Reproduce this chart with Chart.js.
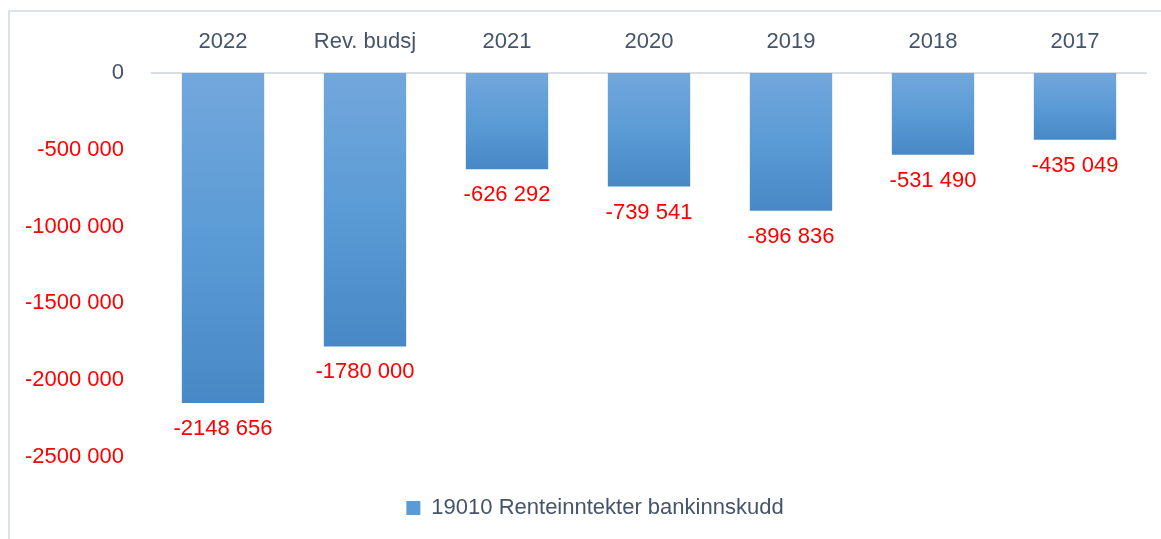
<!DOCTYPE html>
<html>
<head>
<meta charset="utf-8">
<script src="https://cdn.jsdelivr.net/npm/chart.js@4.4.0/dist/chart.umd.min.js"></script>
<style>
  html, body { margin: 0; padding: 0; background: #fff; overflow: hidden; }
  #wrap { position: relative; width: 1161px; height: 539px; }
  #frame { position: absolute; left: 8px; top: 10px; width: 1200px; height: 600px; border: 2px solid #DDE2E9; box-sizing: border-box; }
  canvas { position: absolute; left: 0; top: 0; }
</style>
</head>
<body>
<div id="wrap">
  <div id="frame"></div>
  <canvas id="canvas" width="1161" height="539"></canvas>
</div>
<script>
// verdier lest av figuren
var categories = ['2022', 'Rev. budsj', '2021', '2020', '2019', '2018', '2017'];
var values = [-2148656, -1780000, -626292, -739541, -896836, -531490, -435049];
var seriesName = '19010 Renteinntekter bankinnskudd';
var yMin = -2500000, yMax = 0, yStep = 500000;

var FONT = 'Liberation Sans, Arial, sans-serif';
var FS = 22;

// "-2148 656" style: only last group split
function fmt(v) {
  if (v === 0) return '0';
  var a = Math.abs(Math.round(v));
  var s = v < 0 ? '-' : '';
  var hi = Math.floor(a / 1000), lo = a % 1000;
  if (hi === 0) return s + lo;
  return s + hi + ' ' + String(lo).padStart(3, '0');
}

function barGradient(ctx) {
  var chart = ctx.chart;
  var y = chart.scales.y;
  if (!y || ctx.type !== 'data') return '#5B9BD5';
  var top = y.getPixelForValue(0);
  var bot = y.getPixelForValue(ctx.raw);
  if (!isFinite(top) || !isFinite(bot) || top === bot) return '#5B9BD5';
  var g = chart.ctx.createLinearGradient(0, top, 0, bot);
  g.addColorStop(0, '#72A7DC');
  g.addColorStop(0.5, '#5B9BD5');
  g.addColorStop(1, '#4788C6');
  return g;
}

var valueLabels = {
  id: 'valueLabels',
  afterDatasetsDraw: function (chart) {
    var c = chart.ctx;
    var meta = chart.getDatasetMeta(0);
    c.save();
    c.font = FS + 'px ' + FONT;
    c.fillStyle = '#FF0000';
    c.textAlign = 'center';
    c.textBaseline = 'middle';
    meta.data.forEach(function (bar, i) {
      c.fillText(fmt(values[i]), bar.x, bar.y + 26);
    });
    c.restore();
  }
};

// legend in the original sits a bit right of centre
var legendShift = {
  id: 'legendShift',
  afterLayout: function (chart) {
    if (chart.legend) {
      chart.legend.left += 22;
      chart.legend.right += 22;
    }
  }
};

var ctx = document.getElementById('canvas').getContext('2d');
var myChart = new Chart(ctx, {
  type: 'bar',
  data: {
    labels: categories,
    datasets: [{
      label: seriesName,
      data: values,
      backgroundColor: barGradient,
      borderWidth: 0,
      barPercentage: 0.58,
      categoryPercentage: 1
    }]
  },
  options: {
    responsive: false,
    animation: false,
    devicePixelRatio: 1,
    layout: { padding: { top: 0, right: 15, bottom: 10, left: 0 } },
    scales: {
      x: {
        position: 'top',
        grid: { display: false, drawTicks: false },
        border: { display: true, color: '#D9DDE4', width: 2 },
        ticks: { color: '#44546A', font: { family: FONT, size: FS }, padding: 18 },
        afterFit: function (s) { s.height = 73; }
      },
      y: {
        min: yMin, max: yMax,
        grid: { display: false, drawTicks: false },
        border: { display: false },
        ticks: {
          stepSize: yStep,
          padding: 28,
          font: { family: FONT, size: FS },
          color: function (c) { return c.tick && c.tick.value === 0 ? '#44546A' : '#FF0000'; },
          callback: function (v) { return fmt(v); }
        },
        afterFit: function (s) { s.width = 152; }
      }
    },
    plugins: {
      legend: {
        position: 'bottom',
        title: { display: true, text: ' ', font: { size: 10 }, padding: { top: 7, bottom: 7 } },
        labels: {
          color: '#44546A',
          font: { family: FONT, size: FS },
          boxWidth: 14, boxHeight: 14,
          padding: 14,
          generateLabels: function () {
            return [{ text: seriesName, fillStyle: '#5B9BD5', strokeStyle: '#5B9BD5', fontColor: '#44546A', lineWidth: 0, datasetIndex: 0 }];
          }
        }
      },
      tooltip: { enabled: false }
    }
  },
  plugins: [valueLabels, legendShift]
});
</script>
</body>
</html>
